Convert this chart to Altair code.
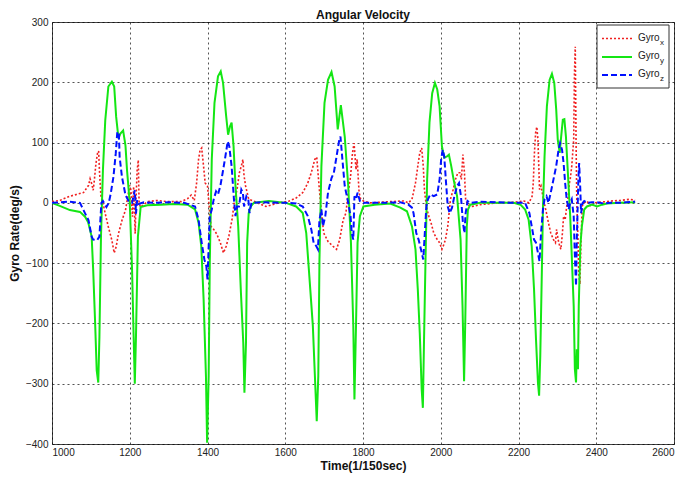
import altair as alt
import pandas as pd

# ---------------- data ----------------
gx_t = [1000, 1020, 1046, 1063, 1081, 1094, 1098, 1102, 1106, 1109, 1113, 1117, 1120, 1122, 1126, 1131,
        1137, 1145, 1154, 1160, 1165, 1171, 1180, 1189, 1195, 1200, 1203, 1207, 1210, 1214, 1216, 1219,
        1222, 1224, 1228, 1245, 1271, 1297, 1332, 1349, 1358, 1366,
        1372, 1377, 1381, 1385, 1390, 1394, 1400, 1405, 1409, 1416, 1424, 1433, 1441, 1448, 1455, 1463,
        1470, 1476, 1482, 1487, 1491, 1494, 1498, 1502, 1506, 1519, 1532, 1550, 1567, 1584, 1610, 1628,
        1645, 1658, 1667, 1676, 1681, 1687, 1693, 1699, 1710, 1723, 1732, 1740, 1749, 1756, 1762, 1768,
        1773, 1777, 1782, 1785, 1790, 1794, 1801, 1818, 1840, 1870, 1896,
        1905, 1917, 1926, 1935, 1941, 1946, 1951, 1955, 1958, 1963, 1969, 1975, 1982, 1991, 1997, 2003,
        2008, 2012, 2018, 2025, 2032, 2038, 2044, 2049, 2053, 2057, 2061, 2064, 2069, 2081, 2102, 2145,
        2188, 2214, 2227, 2235,
        2238, 2241, 2244, 2247, 2250, 2254, 2258, 2261, 2266, 2272, 2277, 2283, 2290, 2295, 2298, 2302,
        2306, 2309, 2313, 2316, 2320, 2324, 2327, 2331, 2333, 2337, 2342, 2344, 2346, 2348, 2350, 2353,
        2355, 2358, 2361, 2364, 2369, 2376, 2386, 2395, 2410, 2436, 2462, 2487, 2500]
gx_v = [2, 4, 11, 14, 17, 29, 40, 32, 21, 38, 65, 82, 86, 54, 10, 0,
        -18, -40, -62, -83, -73, -51, -29, -12, 10, 29, 21, -23, 27, -51, 4, 54,
        71, -1, -7, 2, 4, 2, 2, 7, 13, 4,
        33, 72, 88, 91, 60, 33, 28, -11, -39, -44, -52, -66, -83, -72, -55, -28,
        6, 22, 50, 61, 72, 45, 28, 17, 6, 3, -1, -6, -3, 0, 3, 8,
        17, 33, 50, 72, 76, 28, -17, -50, -64, -72, -77, -61, -28, -17, 17, 44,
        83, 99, 55, 72, 17, 6, 3, 0, 1, 2, 3,
        3, 0, 6, 33, 61, 83, 91, 61, 22, -6, -22, -33, -50, -61, -66, -77,
        -69, -61, -39, 6, 22, 39, 50, 50, 39, 80, 50, 6, -3, -6, -3, 0,
        1, 3, 0, 11,
        33, 83, 116, 126, 105, 22, 28, 17, 0, -17, -33, -50, -61, -66, -44, -61,
        -72, -77, -50, -22, -28, -6, 6, 33, 39, 61, 105, 215, 259, 105, 0, -61,
        -116, -135, -60, -5, 0, 3, -6, 0, 1, 3, 4, 6, 4]

gy_t = [1000, 1020, 1046, 1072, 1085, 1093, 1102, 1106, 1111, 1115, 1119, 1122, 1126, 1131, 1137, 1145,
        1154, 1160, 1165, 1171, 1176, 1183, 1189, 1193, 1200, 1206, 1210, 1213, 1216, 1221, 1228, 1245,
        1280, 1314, 1349,
        1368, 1377, 1384, 1390, 1396, 1399, 1403, 1406, 1411, 1418, 1427, 1434, 1440, 1448, 1453, 1458,
        1462, 1467, 1472, 1479, 1486, 1492, 1495, 1499, 1502, 1506, 1511, 1519, 1558, 1602, 1628, 1645,
        1654, 1662, 1671, 1678, 1681, 1685, 1688, 1693, 1701, 1710, 1719, 1727, 1735, 1743, 1753, 1762,
        1769, 1775, 1778, 1782, 1786, 1792, 1801, 1830, 1870,
        1896, 1913, 1926, 1935, 1941, 1946, 1951, 1954, 1957, 1961, 1965, 1971, 1978, 1985, 1991, 1997,
        2003, 2009, 2016, 2021, 2027, 2033, 2042, 2051, 2056, 2060, 2063, 2067, 2070, 2076, 2102, 2188,
        2205,
        2217, 2226, 2234, 2240, 2245, 2250, 2253, 2256, 2260, 2263, 2267, 2273, 2280, 2286, 2292, 2297,
        2301, 2306, 2309, 2314, 2318, 2322, 2327, 2333, 2337, 2342, 2345, 2348, 2350, 2353, 2355, 2359,
        2363, 2369, 2376, 2389, 2402, 2415, 2427, 2462, 2500]
gy_v = [0, -5, -12, -15, -23, -32, -56, -112, -200, -278, -298, -222, -56, 54, 137, 193,
        201, 193, 143, 107, 115, 120, 95, 54, 0, -112, -222, -300, -222, -56, -7, -4,
        -3, -2, -3,
        -11, -33, -72, -160, -287, -398, -287, -94, 72, 166, 210, 218, 199, 144, 113, 127,
        133, 94, 28, -39, -149, -232, -315, -232, -66, -17, -6, 0, 3, 0, -6, -17,
        -50, -122, -204, -315, -362, -287, -94, 61, 166, 204, 217, 193, 122, 162, 110, 28,
        -66, -204, -326, -204, -66, -22, -6, -3, -1,
        -8, -14, -39, -77, -144, -216, -310, -340, -227, -88, 39, 133, 182, 199, 188, 160,
        94, 75, 77, 80, 61, 39, 11, -61, -171, -296, -199, -39, -11, -3, 0, 0,
        -3,
        -11, -28, -72, -144, -226, -298, -320, -254, -116, -6, 77, 160, 204, 214, 199, 155,
        105, 83, 105, 138, 139, 110, 50, -22, -88, -171, -276, -298, -243, -276, -171, -72,
        -39, -11, -6, -3, -6, -3, -1, 0, 1]

gz_t = [1000, 1020, 1046, 1072, 1081, 1094, 1102, 1106, 1116, 1122, 1127, 1131, 1140, 1146, 1151, 1158,
        1164, 1168, 1172, 1174, 1180, 1189, 1197, 1206, 1213, 1216, 1219, 1223, 1236, 1260, 1300, 1340,
        1368, 1377, 1385, 1392, 1397, 1400, 1403, 1406, 1411, 1416, 1422, 1427, 1433, 1439, 1446, 1452,
        1456, 1462, 1468, 1472, 1476, 1481, 1487, 1491, 1494, 1500, 1505, 1508, 1513, 1541, 1602, 1628,
        1645, 1658, 1667, 1673, 1680, 1684, 1688, 1693, 1697, 1703, 1710, 1719, 1725, 1732, 1739, 1742,
        1747, 1753, 1762, 1768, 1771, 1775, 1778, 1782, 1786, 1792, 1801, 1850, 1896,
        1917, 1926, 1930, 1937, 1943, 1949, 1955, 1959, 1963, 1967, 1973, 1982, 1991, 1997, 2001, 2005,
        2009, 2013, 2018, 2023, 2029, 2035, 2042, 2047, 2052, 2057, 2061, 2064, 2069, 2076, 2102, 2188,
        2217, 2228, 2234, 2240, 2245, 2250, 2254, 2258, 2263, 2267, 2272, 2277, 2283, 2290, 2297, 2303,
        2307, 2312, 2316, 2320, 2324, 2329, 2333, 2337, 2342, 2345, 2348, 2350, 2354, 2356, 2359, 2361,
        2365, 2369, 2376, 2389, 2402, 2419, 2436, 2462, 2500]
gz_v = [0, 1, 2, 0, -12, -29, -56, -61, -62, -56, 0, 3, -7, 0, 15, 43,
        82, 118, 115, 76, 43, 13, 3, 0, 21, -18, 4, -2, 1, 0, 1, 0,
        -6, -28, -66, -94, -105, -127, -72, -22, -11, 6, 19, 14, 28, 50, 77, 102,
        94, 61, 6, -22, -6, -6, 22, 17, -6, 11, 6, -17, 0, 1, 0, -1,
        -6, -22, -44, -66, -72, -77, -28, -11, -39, -22, 17, 41, 50, 77, 105, 110,
        72, 28, 0, -22, -50, -61, 11, 6, 17, 3, 0, 0, 1,
        -3, -8, -17, -50, -61, -77, -94, -50, -6, 6, 14, 11, 14, 39, 72, 88,
        77, 39, -6, -17, -8, 11, 28, 33, 11, -33, -50, -17, 3, 0, 2, 0,
        0, -17, -39, -61, -66, -83, -97, -50, -11, 6, 11, 0, 17, 39, 61, 88,
        99, 88, 66, 33, 6, -11, 0, 6, -22, -88, -138, -61, 39, 66, 22, -17,
        0, 3, 0, 1, 1, -1, 0, 0, 2]

series_names = ["Gyro_x", "Gyro_y", "Gyro_z"]
legend_main = ["Gyro", "Gyro", "Gyro"]
legend_sub = ["x", "y", "z"]
x_ticks = [1000, 1200, 1400, 1600, 1800, 2000, 2200, 2400, 2600]
y_ticks = [-400, -300, -200, -100, 0, 100, 200, 300]
chart_title = ["Angular Velocity"]

# ---------------- build table ----------------
frames = []
for name, t, v in zip(series_names, [gx_t, gy_t, gz_t], [gx_v, gy_v, gz_v]):
    frames.append(pd.DataFrame({"t": t, "v": v, "series": name}))
df = pd.concat(frames, ignore_index=True)

FONT = "Liberation Sans"
styles = {
    "Gyro_x": dict(color="#f02020", strokeDash=[2, 2], strokeWidth=1.6),
    "Gyro_y": dict(color="#14e614", strokeWidth=2),
    "Gyro_z": dict(color="#0010ff", strokeDash=[6, 3], strokeWidth=2),
}

xs = alt.Scale(domain=[1000, 2600], nice=False, zero=False)
ys = alt.Scale(domain=[-400, 300], nice=False, zero=False)
x_axis = alt.Axis(values=x_ticks, title="Time(1/150sec)", labelPadding=3, titlePadding=3, format="d")
y_axis = alt.Axis(values=y_ticks, title="Gyro Rate(deg/s)", labelPadding=4, titlePadding=4, format="d")

layers = []
for name in series_names:
    layers.append(
        alt.Chart(df)
        .transform_filter(alt.datum.series == name)
        .mark_line(clip=True, **styles[name])
        .encode(
            x=alt.X("t:Q", scale=xs, axis=x_axis),
            y=alt.Y("v:Q", scale=ys, axis=y_axis),
        )
    )

# ---------------- custom legend (with subscripts) ----------------
leg_df = pd.DataFrame({"series": series_names, "main": legend_main, "sub": legend_sub})
layers.append(
    alt.Chart(leg_df.head(1))
    .mark_rect(fill="white", stroke="#333", strokeWidth=1)
    .encode(x=alt.value(545), x2=alt.value(617), y=alt.value(3), y2=alt.value(66))
)
entry_y = [16.5, 35, 53]
for i, name in enumerate(series_names):
    one = alt.Chart(leg_df).transform_filter(alt.datum.series == name)
    layers.append(
        one.mark_rule(**styles[name]).encode(
            x=alt.value(550), x2=alt.value(580), y=alt.value(entry_y[i])
        )
    )
    layers.append(
        one.mark_text(align="left", baseline="middle", font=FONT, fontSize=10, color="#222").encode(
            x=alt.value(586), y=alt.value(entry_y[i] - 1), text="main:N"
        )
    )
    layers.append(
        one.mark_text(align="left", baseline="middle", font=FONT, fontSize=8, color="#222").encode(
            x=alt.value(608), y=alt.value(entry_y[i] + 4), text="sub:N"
        )
    )

# ---------------- chart title as text ----------------
title_df = pd.DataFrame({"title": chart_title})
layers.append(
    alt.Chart(title_df)
    .mark_text(align="center", baseline="middle", font=FONT, fontSize=12, fontWeight="bold", color="#111")
    .encode(x=alt.value(311), y=alt.value(-7), text="title:N")
)

chart = (
    alt.layer(*layers)
    .properties(
        width=622,
        height=422,
        autosize=alt.AutoSizeParams(type="none"),
        padding={"left": 44, "top": 14, "right": 18, "bottom": 30},
    )
    .configure_view(stroke="#444", strokeWidth=1)
    .configure_axis(
        grid=True, gridColor="#000", gridDash=[2, 3], gridOpacity=0.85, gridWidth=0.8,
        domain=False, ticks=False,
        labelFont=FONT, labelFontSize=10, labelColor="#222",
        titleFont=FONT, titleFontSize=12, titleFontWeight="bold", titleColor="#111",
    )
)

chart.save("out.html", embed_options={"renderer": "svg", "actions": False})
